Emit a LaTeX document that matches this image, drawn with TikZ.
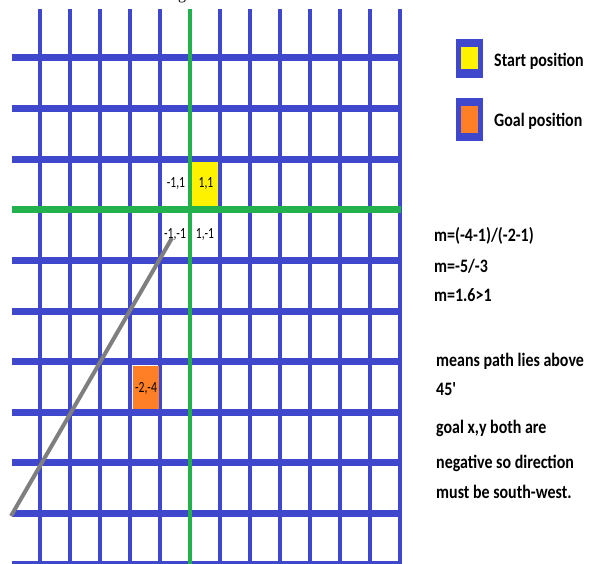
\documentclass[tikz,border=0pt]{standalone}
\usepackage{graphicx}
\usepackage{fontspec}
\setmainfont{Carlito}
\newfontfamily\plaincarlito{Carlito}
\newfontfamily\seriffont{Liberation Serif}
\definecolor{gridblue}{RGB}{63,72,204}
\definecolor{gridgreen}{RGB}{34,177,76}
\definecolor{startyellow}{RGB}{255,242,0}
\definecolor{goalorange}{RGB}{255,127,39}
\definecolor{pathgray}{RGB}{127,127,127}
\newcommand{\nrw}[1]{\scalebox{0.84}[1]{#1}}
\newcommand{\nrl}[1]{\scalebox{0.75}[1]{#1}}
\begin{document}
\begin{tikzpicture}[x=1pt,y=-1pt,
  hline/.style={gridblue,line width=7pt},
  vline/.style={gridblue,line width=4pt},
  ghline/.style={gridgreen,line width=7pt},
  gvline/.style={gridgreen,line width=4pt},
  pathline/.style={pathgray,line width=4pt},
  lbl/.style={font=\fontsize{15.5}{17}\selectfont,inner sep=0pt},
  legtxt/.style={font=\fontsize{19}{22}\selectfont\bfseries,anchor=west,inner sep=0pt},
  rtxt/.style={font=\fontsize{19}{22}\selectfont\bfseries,anchor=west,inner sep=0pt}]
\useasboundingbox (0,0) rectangle (589,564);
\fill[white] (0,0) rectangle (589,564);
% cut-off title fragment
\node[font=\seriffont\fontsize{16}{19}\selectfont,anchor=base,inner sep=0pt] (title) at (182,0) {g};
% grid
\foreach \k in {0,...,10} \draw[hline] (12,58+50.6*\k) -- (401,58+50.6*\k);
\foreach \j in {0,...,12} \draw[vline] (40+30*\j,9) -- (40+30*\j,568);
% axes
\draw[gvline] (190,9) -- (190,568);
\draw[ghline] (12,209.8) -- (401,209.8);
% start and goal cells
\fill[startyellow] (192,162.5) rectangle (218,206.3);
\fill[goalorange] (133,365.5) rectangle (159,408.5);
% path
\coordinate (p0) at (11,516);
\coordinate (p1) at (172,238);
\draw[pathline] (p0) -- (p1);
% cell labels
\node[lbl] (lmp) at (176,184) {\nrl{-1,1}};
\node[lbl] (lpp) at (206,184) {\nrl{1,1}};
\node[lbl] (lmm) at (175,235) {\nrl{-1,-1}};
\node[lbl] (lpm) at (205,235) {\nrl{1,-1}};
\node[lbl] (goal) at (146,388) {\nrl{-2,-4}};
% legend
\fill[gridblue] (456,39) rectangle (483,78);
\fill[startyellow] (461,47) rectangle (478,69);
\fill[gridblue] (456,98) rectangle (483,141);
\fill[goalorange] (461,106) rectangle (478,133);
\node[legtxt] (legstart) at (494,61) {\nrw{Start position}};
\node[legtxt] (leggoal) at (494,121) {\nrw{Goal position}};
% explanation
\node[rtxt] (t1) at (434,236) {\nrw{m=(-4-1)/(-2-1)}};
\node[rtxt] (t2) at (434,266) {\nrw{m=-5/-3}};
\node[rtxt] (t3) at (434,295) {\nrw{m=1.6>1}};
\node[rtxt] (t4) at (436,361) {\nrw{means path lies above}};
\node[rtxt] (t5) at (436,389) {\nrw{\plaincarlito\bfseries 45'}};
\node[rtxt] (t6) at (436,428) {\nrw{goal x,y both are}};
\node[rtxt] (t7) at (436,463) {\nrw{negative so direction}};
\node[rtxt] (t8) at (436,492) {\nrw{must be south-west.}};
\end{tikzpicture}
\end{document}
